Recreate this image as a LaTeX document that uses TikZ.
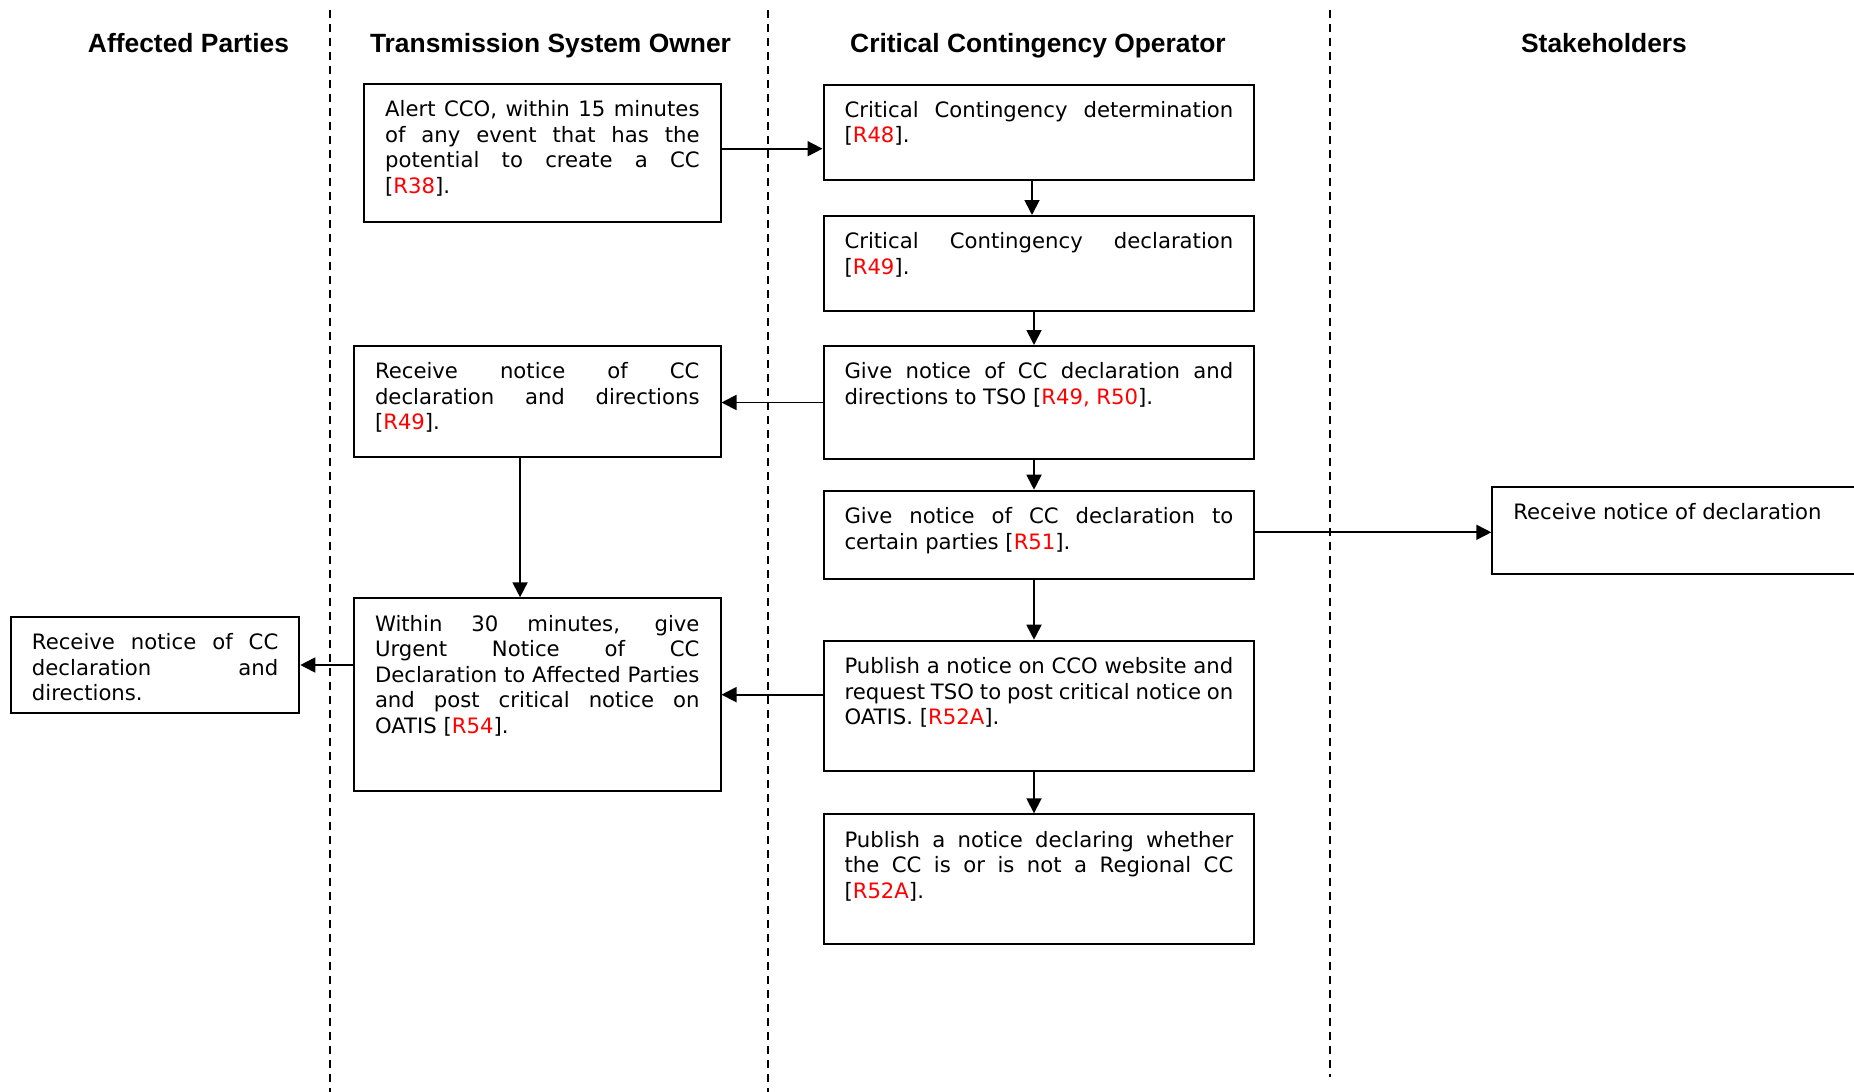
\documentclass[tikz,border=0pt]{standalone}
\usepackage{fontspec}
\setmainfont{DejaVu Sans}
\newfontfamily\headfont{Liberation Sans}
\usetikzlibrary{arrows.meta}
\hyphenpenalty=10000
\exhyphenpenalty=10000
\tolerance=10000
\hbadness=10000
\newcommand{\rref}[1]{\textcolor{red}{#1}}
\newcommand{\boxtext}[3]{\parbox[t][#1][t]{#2}{\strut #3}}
\begin{document}
\begin{tikzpicture}[x=0.5pt,y=-0.5pt]
\tikzstyle{stepbox}=[draw,line width=1pt,inner xsep=10.5pt,inner ysep=7.5pt,font=\fontsize{10.6}{12.75}\selectfont]
\tikzstyle{lanehead}=[anchor=base,font=\headfont\bfseries\fontsize{13.2}{16}\selectfont]
\tikzstyle{lane}=[line width=0.9pt,dash pattern=on 4pt off 3pt]
\tikzstyle{arrow}=[line width=0.9pt,-{Triangle[length=7.5pt,width=7.5pt]}]
\useasboundingbox (0,0) rectangle (1854,1092);
\clip (0,0) rectangle (1854,1092);
% swim lanes
\draw [lane] (330,10) -- (330,1092);
\draw [lane] (768,10) -- (768,1092);
\draw [lane] (1330,10) -- (1330,1077);
\node [lanehead] (hdaffected) at (188.5,52) {Affected Parties};
\node [lanehead] (hdtso) at (550.5,52) {Transmission System Owner};
\node [lanehead] (hdcco) at (1038,52) {Critical Contingency Operator};
\node [lanehead] (hdstake) at (1604,52) {Stakeholders};
% transmission system owner
\node [stepbox] (alert) at (542.4,153) {\boxtext{54pt}{157.2pt}{Alert CCO, within 15 minutes\linebreak{} of any event that has the\linebreak{} potential to create a CC\linebreak{} [\rref{R38}].}};
\node [stepbox] (tsorecv) at (537.25,401.35) {\boxtext{40.35pt}{162.25pt}{Receive notice of CC\linebreak{} declaration and directions\linebreak{} [\rref{R49}].}};
\node [stepbox] (within) at (537.25,694.65) {\boxtext{81.35pt}{162.25pt}{Within 30 minutes, give\linebreak{} Urgent Notice of CC\linebreak{} Declaration to Affected Parties\linebreak{} and post critical notice on\linebreak{} OATIS [\rref{R54}].}};
% critical contingency operator
\node [stepbox] (determ) at (1038.9,132.25) {\boxtext{32.75pt}{194.4pt}{Critical Contingency determination\linebreak{} [\rref{R48}].}};
\node [stepbox] (declar) at (1038.9,263.5) {\boxtext{32.5pt}{194.4pt}{Critical Contingency declaration\linebreak{} [\rref{R49}].}};
\node [stepbox] (givetso) at (1038.9,402.5) {\boxtext{41.5pt}{194.4pt}{Give notice of CC declaration and\linebreak{} directions to TSO [\rref{R49, R50}].}};
\node [stepbox] (givecert) at (1038.9,534.7) {\boxtext{29pt}{194.4pt}{Give notice of CC declaration to\linebreak{} certain parties [\rref{R51}].}};
\node [stepbox] (pubweb) at (1038.9,705.85) {\boxtext{50.15pt}{194.4pt}{Publish a notice on CCO website and\linebreak{} request TSO to post critical notice on\linebreak{} OATIS. [\rref{R52A}].}};
\node [stepbox] (pubreg) at (1038.9,879.3) {\boxtext{50pt}{194.4pt}{Publish a notice declaring whether\linebreak{} the CC is or is not a Regional CC\linebreak{} [\rref{R52A}].}};
% affected parties and stakeholders
\node [stepbox] (affected) at (155.15,665) {\boxtext{33.3pt}{123.15pt}{Receive notice of CC\linebreak{} declaration and\linebreak{} directions.}};
\node [stepbox] (stake) at (1707.7,530.5) {\boxtext{28.8pt}{194.4pt}{Receive notice of declaration}};
% connectors
\coordinate (al) at ([yshift=2.15pt]alert.east);
\coordinate (gc) at ([yshift=1.2pt]givecert.east);
\draw [arrow] (al) -- (al -| determ.west);
\draw [arrow] ([xshift=-3.45pt]determ.south) -- ([xshift=-3.45pt]declar.north);
\draw [arrow] ([xshift=-2.45pt]declar.south) -- ([xshift=-2.45pt]givetso.north);
\draw [arrow] (givetso.west) -- (givetso.west -| tsorecv.east);
\draw [arrow] ([xshift=-2.45pt]givetso.south) -- ([xshift=-2.45pt]givecert.north);
\draw [arrow] (gc) -- (gc -| stake.west);
\draw [arrow] ([xshift=-2.45pt]givecert.south) -- ([xshift=-2.45pt]pubweb.north);
\draw [arrow] (pubweb.west |- within.east) -- (within.east);
\draw [arrow] ([xshift=-2.45pt]pubweb.south) -- ([xshift=-2.45pt]pubreg.north);
\draw [arrow] ([xshift=-8.6pt]tsorecv.south) -- ([xshift=-8.6pt]within.north);
\draw [arrow] (within.west |- affected.east) -- (affected.east);
\end{tikzpicture}
\end{document}
